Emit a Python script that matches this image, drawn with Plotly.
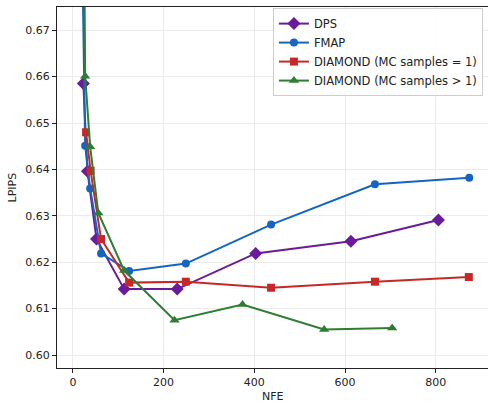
import plotly.graph_objects as go

dps_x = [23, 32, 52, 113, 230, 403, 613, 806]
dps_y = [0.6585, 0.6396, 0.6250, 0.6142, 0.6142, 0.6219, 0.6245, 0.6291]

fmap_x = [20, 27, 38, 62, 124, 249, 437, 666, 874]
fmap_y = [0.690, 0.6451, 0.6359, 0.6219, 0.6181, 0.6197, 0.6281, 0.6368, 0.6382]

dia1_x = [29, 39, 62, 124, 249, 437, 666, 873]
dia1_y = [0.6480, 0.6397, 0.6250, 0.6156, 0.6158, 0.6145, 0.6158, 0.6168]

diam_x = [24, 27, 38, 56, 113, 224, 374, 554, 704]
diam_y = [0.700, 0.6601, 0.6449, 0.6306, 0.6182, 0.6075, 0.6109, 0.6055, 0.6058]

names = ["DPS", "FMAP", "DIAMOND (MC samples = 1)", "DIAMOND (MC samples > 1)"]
colors = ["#6A1B9A", "#1565C0", "#C62828", "#2E7D32"]
symbols = ["diamond", "circle", "square", "triangle-up"]
sizes = [10, 8, 8, 9]
xs = [dps_x, fmap_x, dia1_x, diam_x]
ys = [dps_y, fmap_y, dia1_y, diam_y]

x_ticks = [0, 200, 400, 600, 800]
y_ticks = [0.60, 0.61, 0.62, 0.63, 0.64, 0.65, 0.66, 0.67]

fig = go.Figure()
for n, c, s, sz, x, y in zip(names, colors, symbols, sizes, xs, ys):
    fig.add_trace(go.Scatter(
        x=x, y=y, name=n, mode="lines+markers",
        line=dict(color=c, width=2),
        marker=dict(symbol=s, size=sz, color=c),
    ))

font = dict(family="DejaVu Sans", size=11, color="#222222")
fig.update_layout(
    width=488, height=402,
    margin=dict(l=57, r=0, t=7, b=34, autoexpand=False),
    paper_bgcolor="white", plot_bgcolor="white",
    font=font,
    showlegend=True,
    legend=dict(
        x=0.501, y=0.997, xanchor="left", yanchor="top",
        bgcolor="rgba(255,255,255,0.9)", bordercolor="#cccccc", borderwidth=1,
        font=dict(family="DejaVu Sans", size=11.5, color="#222222"),
        itemwidth=30, tracegroupgap=0,
    ),
    xaxis=dict(
        range=[-35.1, 915.3], tickvals=x_ticks,
        showgrid=True, gridcolor="#ebebeb", gridwidth=1,
        showline=True, linecolor="#222222", linewidth=1, mirror=True,
        ticks="outside", ticklen=4, tickcolor="#222222",
        zeroline=False, automargin=False,
    ),
    yaxis=dict(
        range=[0.5972, 0.675], tickvals=y_ticks, tickformat=".2f",
        showgrid=True, gridcolor="#ebebeb", gridwidth=1,
        showline=True, linecolor="#222222", linewidth=1,
        ticks="outside", ticklen=4, tickcolor="#222222",
        zeroline=False, automargin=False,
    ),
    annotations=[
        dict(text="NFE", xref="paper", yref="paper", x=0.5, y=0,
             yshift=-28, xanchor="center", yanchor="middle",
             showarrow=False, font=font),
        dict(text="LPIPS", xref="paper", yref="paper", x=0, y=0.5,
             xshift=-45, xanchor="center", yanchor="middle", textangle=-90,
             showarrow=False, font=font),
    ],
)

fig.write_html(
    "out.html",
    config={"displayModeBar": False},
    post_script="document.body.style.margin='0';document.body.style.padding='0';",
)
